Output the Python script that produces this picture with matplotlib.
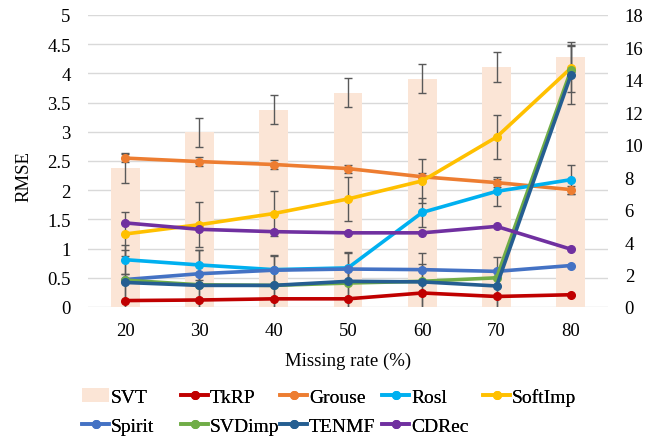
import matplotlib.pyplot as plt
import numpy as np

plt.rcParams['font.family'] = ['Liberation Serif', 'DejaVu Serif']

# Datos
missing = [20, 30, 40, 50, 60, 70, 80]
svt = [2.38, 2.99, 3.38, 3.67, 3.91, 4.11, 4.28]
svt_err = [0.26, 0.25, 0.25, 0.25, 0.25, 0.25, 0.25]

tkrp = [0.11, 0.12, 0.14, 0.14, 0.24, 0.18, 0.21]
grouse = [2.55, 2.49, 2.44, 2.37, 2.23, 2.13, 2.01]
rosl = [0.81, 0.72, 0.64, 0.67, 1.62, 1.98, 2.18]
softimp = [1.25, 1.41, 1.60, 1.85, 2.16, 2.91, 4.09]
spirit = [0.47, 0.57, 0.63, 0.65, 0.64, 0.61, 0.71]
svdimp = [0.46, 0.38, 0.37, 0.41, 0.44, 0.50, 4.05]
tenmf = [0.42, 0.37, 0.37, 0.44, 0.43, 0.36, 3.97]
cdrec = [1.44, 1.33, 1.29, 1.27, 1.27, 1.38, 0.99]

grouse_err = [0.07, 0.07, 0.07, 0.07, 0.07, 0.07, 0.07]
softimp_err = [0.38, 0.38, 0.38, 0.38, 0.38, 0.38, 0.40]
rosl_err = [0.25, 0.25, 0.25, 0.25, 0.25, 0.25, 0.25]
tkrp_err = [0.45, 0.45, 0.5, 0.5, 0.5, 0.45, 0.0]
tenmf_err = [0.55, 0.6, 0.5, 0.5, 0.5, 0.5, 0.5]

series = [
    ('TkRP', tkrp, '#C00000', tkrp_err),
    ('Grouse', grouse, '#ED7D31', grouse_err),
    ('Rosl', rosl, '#00B0F0', rosl_err),
    ('SoftImp', softimp, '#FFC000', softimp_err),
    ('Spirit', spirit, '#4472C4', None),
    ('SVDimp', svdimp, '#70AD47', None),
    ('TENMF', tenmf, '#255E91', tenmf_err),
    ('CDRec', cdrec, '#7030A0', None),
]

W, H = 659, 439
fig = plt.figure(figsize=(6.59, 4.39), dpi=100)
ax = fig.add_axes([88 / W, 1 - 308 / H, 520 / W, 292 / H])
x = np.arange(len(missing))

ax.bar(x, svt, width=0.39, color='#FBE5D6', label='SVT', zorder=1)
ax.errorbar(x, svt, yerr=svt_err, fmt='none', ecolor='#595959',
            elinewidth=1, capsize=3, zorder=2)

for name, vals, col, err in series:
    ax.plot(x, vals, color=col, lw=2.6, marker='o', ms=5.5, label=name, zorder=3)
    if err is not None:
        ax.errorbar(x, vals, yerr=err, fmt='none', ecolor='#595959',
                    elinewidth=1, capsize=3, zorder=2)

ax.set_xlim(-0.5, 6.5)
ax.set_ylim(0, 5)
ax.set_yticks(np.arange(0, 5.01, 0.5))
ax.set_yticklabels(['0', '0.5', '1', '1.5', '2', '2.5', '3', '3.5', '4', '4.5', '5'])
ax.set_xticks(x)
ax.set_xticklabels([str(m) for m in missing])
ax.grid(axis='y', color='#D9D9D9', lw=1, zorder=0)
ax.set_axisbelow(True)
for s in ax.spines.values():
    s.set_visible(False)
ax.tick_params(length=0, labelsize=13.5)
ax.tick_params(axis='y', pad=12.5)
ax.tick_params(axis='x', pad=10.5)

fig.text(23.5 / W, 1 - 177 / H, 'RMSE', rotation=90, fontsize=13.5,
         ha='center', va='center')
fig.text(348 / W, 1 - 361 / H, 'Missing rate (%)', fontsize=13.5,
         ha='center', va='center')

ax2 = ax.twinx()
ax2.set_ylim(0, 18)
ax2.set_yticks(np.arange(0, 19, 2))
for s in ax2.spines.values():
    s.set_visible(False)
ax2.tick_params(length=0, labelsize=13.5, pad=12)

# leyenda: cada entrada en su sitio (columnas de ancho fijo)
handles, labels = ax.get_legend_handles_labels()
d = dict(zip(labels, handles))
filas = [['SVT', 'TkRP', 'Grouse', 'Rosl', 'SoftImp'],
         ['Spirit', 'SVDimp', 'TENMF', 'CDRec']]
col_x = [82, 181, 280, 382, 483]
fila_y = [398, 427]
for i, fila in enumerate(filas):
    for j, nombre in enumerate(fila):
        leg = fig.legend([d[nombre]], [nombre], loc='center left',
                         bbox_to_anchor=(col_x[j] / W, 1 - fila_y[i] / H),
                         frameon=False, fontsize=14, handlelength=1.4,
                         handletextpad=0.1, borderpad=0, borderaxespad=0)
        fig.add_artist(leg)

plt.savefig('out.png', dpi=100)
